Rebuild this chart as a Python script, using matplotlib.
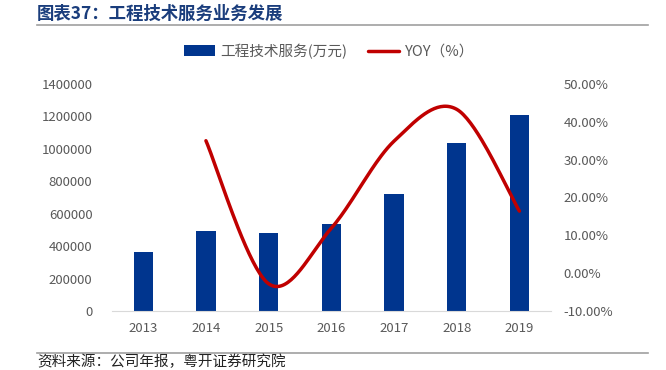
import numpy as np
import matplotlib.pyplot as plt

plt.rcParams['font.family'] = ['Noto Sans CJK SC', 'DejaVu Sans']

years = ['2013', '2014', '2015', '2016', '2017', '2018', '2019']
revenue = [364000, 493000, 479000, 536000, 723000, 1036000, 1209000]
yoy = [None, 35.0, -2.8, 11.9, 34.9, 43.3, 16.4]


# Excel-style smoothed line (Bezier through points)
def smooth(xs, ys, steps=40):
    px, py = [], []
    n = len(xs)
    for i in range(n - 1):
        x0, y0 = xs[max(i - 1, 0)], ys[max(i - 1, 0)]
        x1, y1 = xs[i], ys[i]
        x2, y2 = xs[i + 1], ys[i + 1]
        x3, y3 = xs[min(i + 2, n - 1)], ys[min(i + 2, n - 1)]
        c1 = (x1 + (x2 - x0) / 6, y1 + (y2 - y0) / 6)
        c2 = (x2 - (x3 - x1) / 6, y2 - (y3 - y1) / 6)
        t = np.linspace(0, 1, steps)
        px += list((1 - t) ** 3 * x1 + 3 * (1 - t) ** 2 * t * c1[0] + 3 * (1 - t) * t ** 2 * c2[0] + t ** 3 * x2)
        py += list((1 - t) ** 3 * y1 + 3 * (1 - t) ** 2 * t * c1[1] + 3 * (1 - t) * t ** 2 * c2[1] + t ** 3 * y2)
    return px, py


fig = plt.figure(figsize=(6.66, 3.7), dpi=100)
ax = fig.add_axes([0.168, 0.1595, 0.659, 0.6135])
x = np.arange(len(years))
bars = ax.bar(x, revenue, width=0.31, color='#00358E', zorder=2)
ax.set_xlim(-0.5, 6.5)
ax.set_ylim(0, 1400000)
yt = np.arange(0, 1400001, 200000)
ax.set_yticks(yt)
ax.set_yticklabels([str(v) for v in yt])
ax.set_xticks(x)
ax.set_xticklabels(years)
for s in ['top', 'right', 'left']:
    ax.spines[s].set_visible(False)
ax.spines['bottom'].set_color('#D9D9D9')
ax.tick_params(length=0, colors='#595959', labelsize=9.5)
ax.tick_params(axis='x', pad=8)
ax.tick_params(axis='y', pad=14)

ax2 = ax.twinx()
lx = [i for i, v in enumerate(yoy) if v is not None]
ly = [v for v in yoy if v is not None]
sx, sy = smooth(lx, ly)
line, = ax2.plot(sx, sy, color='#C00000', linewidth=2.5, solid_capstyle='round', zorder=3)
ax2.set_ylim(-10, 50)
rt = np.arange(-10, 51, 10)
ax2.set_yticks(rt)
ax2.set_yticklabels([f'{v:.2f}%' for v in rt])
for s in ax2.spines.values():
    s.set_visible(False)
ax2.tick_params(length=0, colors='#595959', labelsize=9.5, pad=9)

fig.legend([bars, line], ['工程技术服务(万元)', 'YOY（%）'], loc='center', bbox_to_anchor=(0.494, 0.862),
           ncol=2, frameon=False, fontsize=10.5, labelcolor='#595959', handlelength=2.1,
           handletextpad=0.4, columnspacing=1.4)

fig.text(37 / 666, 0.962, '图表37：工程技术服务业务发展', fontsize=12.5, fontweight='bold', color='#1A3D7C', va='center')
fig.add_artist(plt.Line2D([37 / 666, 648 / 666], [0.932, 0.932], color='#A0A0A0', linewidth=1.2))
fig.add_artist(plt.Line2D([37 / 666, 648 / 666], [0.047, 0.047], color='#A0A0A0', linewidth=1.2))
fig.text(37 / 666, 1 / 370, '资料来源：公司年报，粤开证券研究院', fontsize=10.5, style='italic', color='#222222', va='bottom')

fig.savefig('out.png', dpi=100)
